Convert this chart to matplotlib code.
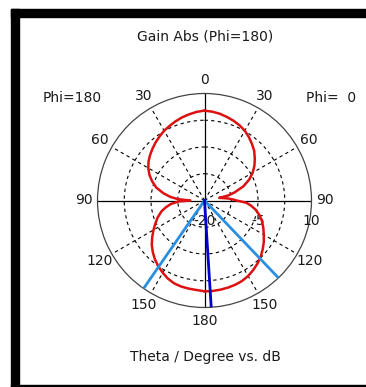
import numpy as np
import matplotlib
matplotlib.use("Agg")
import matplotlib.pyplot as plt
from matplotlib.patches import Rectangle

# gain, theta in degrees, gain in dB
theta_phi0 = [0, 5, 10, 15, 20, 25, 30, 35, 40, 45, 50, 55, 60, 65, 70, 75, 78,
              80, 82, 85, 88, 90, 93, 96, 100, 105, 110, 115, 120, 125, 130,
              135, 140, 145, 150, 155, 160, 165, 170, 176, 180]
gain_phi0 = [5.2, 5.0, 4.7, 4.25, 3.8, 3.25, 2.6, 1.7, 0.7, -0.3, -1.6, -2.9,
             -4.4, -6.2, -8.4, -11.3, -13.2, -15.8, -15.0, -13.4, -12.0, -11.0,
             -8.3, -7.0, -5.5, -4.0, -2.8, -1.8, -0.8, 0.3, 1.3, 2.3, 3.1, 3.8,
             4.45, 4.9, 5.15, 5.3, 5.4, 5.5, 5.45]

theta_phi180 = [0, 5, 10, 15, 20, 25, 30, 35, 40, 45, 50, 55, 60, 65, 70, 75,
                80, 84, 87, 90, 92, 96, 100, 104, 110, 116, 120, 125, 130, 135,
                140, 145, 150, 155, 160, 165, 170, 175, 180]
gain_phi180 = [5.2, 4.95, 4.55, 4.15, 3.65, 3.1, 2.6, 1.95, 1.3, 0.6, -0.1,
               -0.85, -1.8, -2.95, -4.4, -6.0, -8.3, -10.4, -12.5, -16.0, -12.8,
               -10.5, -9.0, -7.6, -6.0, -4.55, -3.5, -2.1, -0.7, 0.5, 1.6, 2.55,
               3.4, 4.2, 4.75, 5.0, 5.1, 5.2, 5.45]

hpbw_phi0 = 136.3
hpbw_phi180 = 145.3
main_beam_phi0 = 176.4

theta_ticks = [0, 30, 60, 90, 120, 150, 180, 210, 240, 270, 300, 330]
theta_labels = ['0', '30', '60', '90', '120', '150', '180', '150', '120', '90', '60', '30']
r_rings = [-12.5, -5, 2.5]
r_labels = [-20, -5, 10]
r_min, r_max = -20, 10

W, H = 366, 387
fig = plt.figure(figsize=(W / 100, H / 100), dpi=100)
plt.rcParams['font.family'] = 'DejaVu Sans'
txt = '#1a1a1a'
fs = 10

# black frame
fig.patches.append(Rectangle((11 / W, 0), 8 / W, (H - 9) / H, transform=fig.transFigure,
                             color='black', zorder=0))
fig.patches.append(Rectangle((11 / W, (H - 17) / H), 1, 8 / H, transform=fig.transFigure,
                             color='black', zorder=0))
fig.patches.append(Rectangle((11 / W, 0), 1, 2 / H, transform=fig.transFigure,
                             color='black', zorder=0))

cx, cy, R = 204.5, 200.5, 107
ax = fig.add_axes([(cx - R) / W, (H - cy - R) / H, 2 * R / W, 2 * R / H], projection='polar')
ax.set_theta_zero_location('N')
ax.set_theta_direction(-1)
ax.set_ylim(r_min, r_max)

ax.set_thetagrids(theta_ticks, theta_labels, fontsize=fs, color=txt)
ax.set_rgrids(r_rings, labels=[''] * len(r_rings))
ax.grid(True, color='black', linestyle=(0, (3, 3)), linewidth=0.8)
for i, gl in enumerate(ax.xaxis.get_gridlines()):
    if theta_ticks[i] % 90 == 0:
        gl.set_linestyle('-')
        gl.set_linewidth(0.9)
ax.tick_params(axis='x', pad=3, direction='in', length=4, width=0.8)
ax.spines['polar'].set_color('#444444')
ax.spines['polar'].set_linewidth(0.9)

for v in r_labels:
    ax.annotate(str(v), xy=(np.pi / 2, v), xytext=(0, -15), textcoords='offset points',
                ha='center', va='center', fontsize=fs, color=txt)

red = '#dd1111'
ax.plot(np.deg2rad(theta_phi0), gain_phi0, color=red, lw=1.8, zorder=3)
ax.plot(-np.deg2rad(theta_phi180), gain_phi180, color=red, lw=1.8, zorder=3)

light_blue = '#2a8fe0'
ax.plot([np.deg2rad(hpbw_phi0)] * 2, [r_min, r_max], color=light_blue, lw=2, zorder=4)
ax.plot([-np.deg2rad(hpbw_phi180)] * 2, [r_min, r_max], color=light_blue, lw=2, zorder=4)
ax.plot([np.deg2rad(main_beam_phi0)] * 2, [r_min, r_max], color='#0000cc', lw=2, zorder=4)

fig.text(205 / W, 1 - 37 / H, 'Gain Abs (Phi=180)', ha='center', va='center', fontsize=fs, color=txt)
fig.text(72 / W, 1 - 98 / H, 'Phi=180', ha='center', va='center', fontsize=fs, color=txt)
fig.text(331 / W, 1 - 98 / H, 'Phi=  0', ha='center', va='center', fontsize=fs, color=txt)
fig.text(205 / W, 1 - 357 / H, 'Theta / Degree vs. dB', ha='center', va='center', fontsize=fs, color=txt)

fig.savefig('out.png', dpi=100)
